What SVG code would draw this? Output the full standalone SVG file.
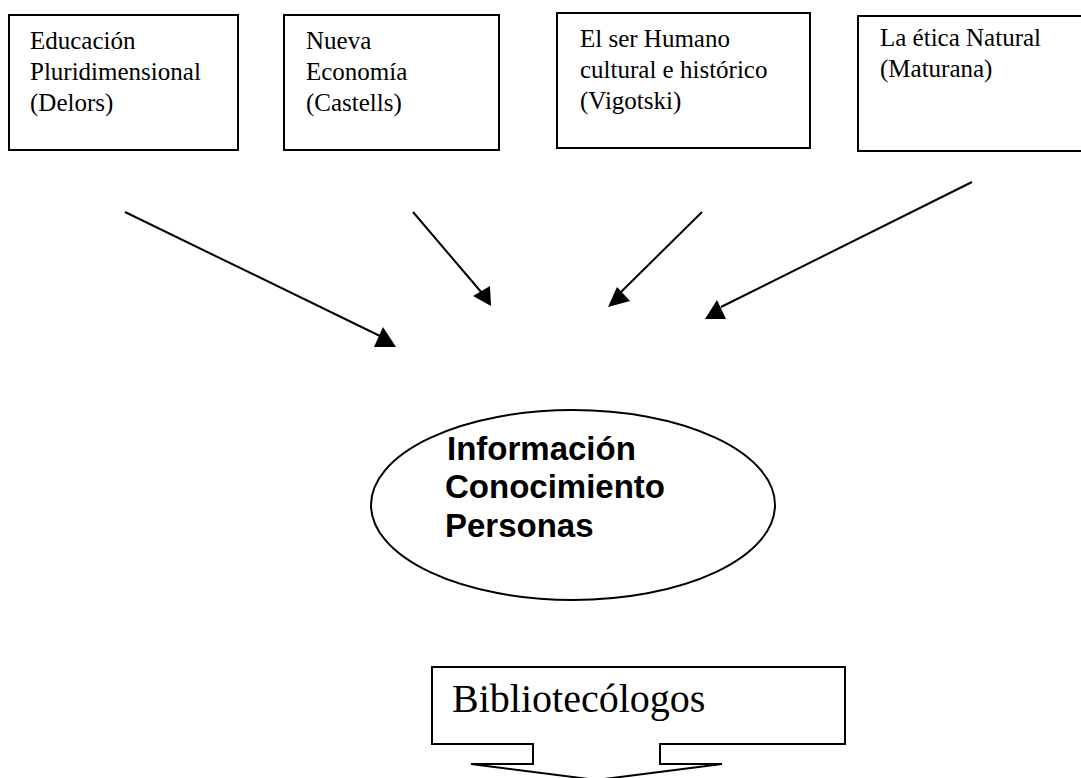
<svg xmlns="http://www.w3.org/2000/svg" width="1081" height="778" viewBox="0 0 1081 778">
<style>
.box{fill:#fff;stroke:#000;stroke-width:2}
.t{font-family:"Liberation Serif","Times New Roman",serif;font-size:25px;fill:#000}
.b{font-family:"Liberation Sans",Arial,sans-serif;font-size:33px;font-weight:bold;fill:#000}
.big{font-family:"Liberation Serif","Times New Roman",serif;font-size:40px;fill:#000}
.ln{stroke:#000;stroke-width:2;fill:none}
.hd{fill:#000}
</style>
<rect width="1081" height="778" fill="#fff"/>
<g id="n1"><rect class="box" x="9" y="15" width="229" height="135"/>
<text class="t" x="30" y="49">Educación</text><text class="t" x="30" y="80">Pluridimensional</text><text class="t" x="30" y="111">(Delors)</text></g>
<g id="n2"><rect class="box" x="284" y="15" width="215" height="135"/>
<text class="t" x="306" y="49">Nueva</text><text class="t" x="306" y="80">Economía</text><text class="t" x="306" y="111">(Castells)</text></g>
<g id="n3"><rect class="box" x="557" y="13" width="253" height="135"/>
<text class="t" x="580" y="47">El ser Humano</text><text class="t" x="580" y="78">cultural e histórico</text><text class="t" x="580" y="109">(Vigotski)</text></g>
<g id="n4"><rect class="box" x="858" y="16" width="230" height="135"/>
<text class="t" x="880" y="46">La ética Natural</text><text class="t" x="880" y="77">(Maturana)</text></g>
<g id="connectors">
<line class="ln" x1="125" y1="212" x2="380" y2="336"/><polygon class="hd" points="383,327 374,347 396,347"/>
<line class="ln" x1="413" y1="212" x2="482" y2="293"/><polygon class="hd" points="490,286 473,296 491,306"/>
<line class="ln" x1="702" y1="212" x2="620" y2="293"/><polygon class="hd" points="617,287 608,307 630,301"/>
<line class="ln" x1="972" y1="182" x2="721" y2="307"/><polygon class="hd" points="717,300 705,319 726,319"/>
</g>
<g id="n5"><ellipse class="box" cx="573" cy="505" rx="202" ry="95"/>
<text class="b" x="447" y="460">Información</text><text class="b" x="445" y="498">Conocimiento</text><text class="b" x="445" y="537">Personas</text></g>
<g id="n6"><path class="box" d="M432,667 H845 V744 H660 V764 H722 L596.5,780 L471,764 H533 V744 H432 Z"/>
<text class="big" x="452" y="712">Bibliotecólogos</text></g>
</svg>
